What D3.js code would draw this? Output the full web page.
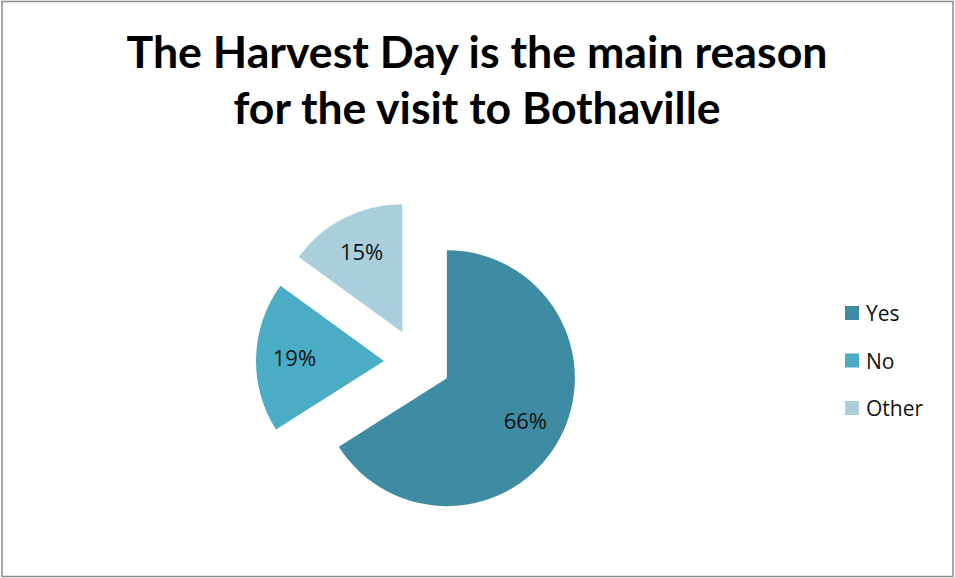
<!DOCTYPE html>
<html>
<head>
<meta charset="utf-8">
<script src="https://cdn.jsdelivr.net/npm/d3@7"></script>
<style>
  body { margin: 0; background: #fff; }
</style>
</head>
<body>
<div id="chart"></div>
<script>
const categories = ['Yes', 'No', 'Other'];
const values = [66, 19, 15];
const colors = ['#3e8ca3', '#4bacc6', '#a9cfdc'];
const titleLines = ['The Harvest Day is the main reason', 'for the visit to Bothaville'];

const width = 955, height = 578;
const cx = 417.5, cy = 362, radius = 128, explode = 33.5;

const svg = d3.select('#chart')
    .append('svg')
    .attr('width', width)
    .attr('height', height);

// frame
svg.append('rect')
    .attr('x', 2).attr('y', 1.5)
    .attr('width', width - 4).attr('height', height - 3)
    .attr('fill', '#fff')
    .attr('stroke', '#8c8c8c')
    .attr('stroke-width', 1.5);

// title
const titleWidths = [701, 487];
svg.selectAll('.title')
    .data(titleLines)
    .enter()
    .append('text')
    .attr('class', 'title')
    .attr('x', width / 2 - 0.5)
    .attr('y', (d, i) => 68 + i * 56)
    .attr('text-anchor', 'middle')
    .attr('textLength', (d, i) => titleWidths[i])
    .attr('lengthAdjust', 'spacingAndGlyphs')
    .style('font-family', "Lato, 'Open Sans', sans-serif")
    .style('font-weight', 'bold')
    .style('font-size', '43px')
    .attr('fill', '#000')
    .text(d => d);

const data = categories.map((c, i) => ({name: c, value: values[i]}));
const pie = d3.pie().value(d => d.value).sort(null);
const arc = d3.arc().innerRadius(0).outerRadius(radius);
const labelArc = d3.arc().innerRadius(radius * 0.7).outerRadius(radius * 0.7);
const color = d3.scaleOrdinal(categories, colors);

const slices = svg.selectAll('.slice')
    .data(pie(data))
    .enter()
    .append('g')
    .attr('class', 'slice')
    .attr('transform', d => {
        const a = (d.startAngle + d.endAngle) / 2;
        return `translate(${cx + explode * Math.sin(a)},${cy - explode * Math.cos(a)})`;
    });

slices.append('path')
    .attr('d', arc)
    .attr('fill', d => color(d.data.name));

slices.append('text')
    .attr('transform', d => `translate(${labelArc.centroid(d)})`)
    .attr('text-anchor', 'middle')
    .attr('dy', '0.36em')
    .style('font-family', "'Open Sans', sans-serif")
    .style('font-size', '22px')
    .attr('fill', '#111')
    .text(d => d.data.value + '%');

// legend
const legend = svg.selectAll('.legend')
    .data(categories)
    .enter()
    .append('g')
    .attr('class', 'legend')
    .attr('transform', (d, i) => `translate(845,${313 + i * 47.5})`);

legend.append('rect')
    .attr('x', 0).attr('y', -7)
    .attr('width', 14).attr('height', 14)
    .attr('fill', d => color(d));

legend.append('text')
    .attr('x', 21)
    .attr('y', 8)
    .style('font-family', "'Open Sans', sans-serif")
    .style('font-size', '21px')
    .attr('fill', '#111')
    .text(d => d);
</script>
</body>
</html>
